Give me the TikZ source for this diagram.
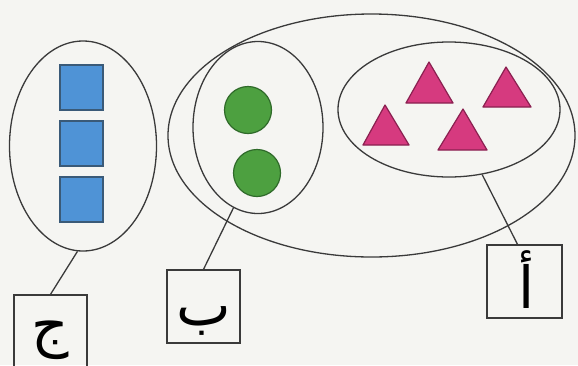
\documentclass[tikz,border=0pt]{standalone}
\usepackage{fontspec}
\usetikzlibrary{shapes.geometric}
\TeXXeTstate=1
\newfontfamily\arabicfont[Script=Arabic]{DejaVu Sans}
\definecolor{bg}{HTML}{F5F5F2}
\definecolor{ink}{HTML}{3A3A3A}
\definecolor{sqblue}{HTML}{4F93D6}
\definecolor{sqedge}{HTML}{3A5A78}
\definecolor{dotgreen}{HTML}{4DA040}
\definecolor{dotedge}{HTML}{2F6A2A}
\definecolor{trimag}{HTML}{D63A7F}
\definecolor{triedge}{HTML}{8A2050}
\tikzset{
  setring/.style={ellipse, draw=ink, line width=1.3pt, inner sep=0pt},
  lbox/.style={draw=ink, line width=1.3pt, minimum width=73pt, minimum height=73pt, inner sep=0pt},
  letter/.style={inner sep=0pt, font=\fontsize{58}{60}\arabicfont},
  link/.style={draw=ink, line width=1.3pt},
  sq/.style={draw=sqedge, fill=sqblue, line width=1.2pt, minimum width=43pt, minimum height=45pt, inner sep=0pt},
  dot/.style={circle, draw=dotedge, fill=dotgreen, line width=1.2pt, minimum size=47pt, inner sep=0pt},
  tri/.style={draw=triedge, fill=trimag, line width=1.2pt, line join=round}
}
\begin{document}
\begin{tikzpicture}[x=1pt,y=-1pt]
\fill[bg] (0,0) rectangle (578,365);
\clip (0,0) rectangle (578,365);
% set J
\node[setring, minimum width=147pt, minimum height=210pt] (J) at (83,146) {};
\node[sq] (s1) at (81.5,87.5) {};
\node[sq] (s2) at (81.5,143.5) {};
\node[sq] (s3) at (81.5,199.5) {};
% big set
\node[setring, minimum width=407pt, minimum height=243pt] (big) at (371.5,135.5) {};
% set B
\node[setring, minimum width=130pt, minimum height=172pt] (B) at (258,127.5) {};
\node[dot] (c1) at (248,110) {};
\node[dot] (c2) at (257,173) {};
% set A
\node[setring, minimum width=222pt, minimum height=135pt] (A) at (449,109.5) {};
\draw[tri] (429,62) -- (453,103) -- (406,103) -- cycle;
\draw[tri] (506,67) -- (531,107) -- (483,107) -- cycle;
\draw[tri] (385,105) -- (409,145) -- (363,145) -- cycle;
\draw[tri] (463,109) -- (487,150) -- (438,150) -- cycle;
% label boxes
\node[lbox, minimum height=80pt] (bJ) at (50.5,335) {};
\node[letter] (tJ) at (50.5,340) {\beginR ج\endR};
\node[lbox] (bB) at (203.5,306.5) {};
\node[letter] (tB) at (203.5,321) {\beginR ب\endR};
\node[lbox, minimum width=75pt] (bA) at (524.5,281.5) {};
\node[letter] (tA) at (527,280) {\beginR أ\endR};
% connectors
\draw[link] (J.267) -- (bJ.north);
\draw[link] (B.253) -- (bB.north);
\draw[link] (A.297) -- ([xshift=-7pt]bA.north);
\end{tikzpicture}
\end{document}
